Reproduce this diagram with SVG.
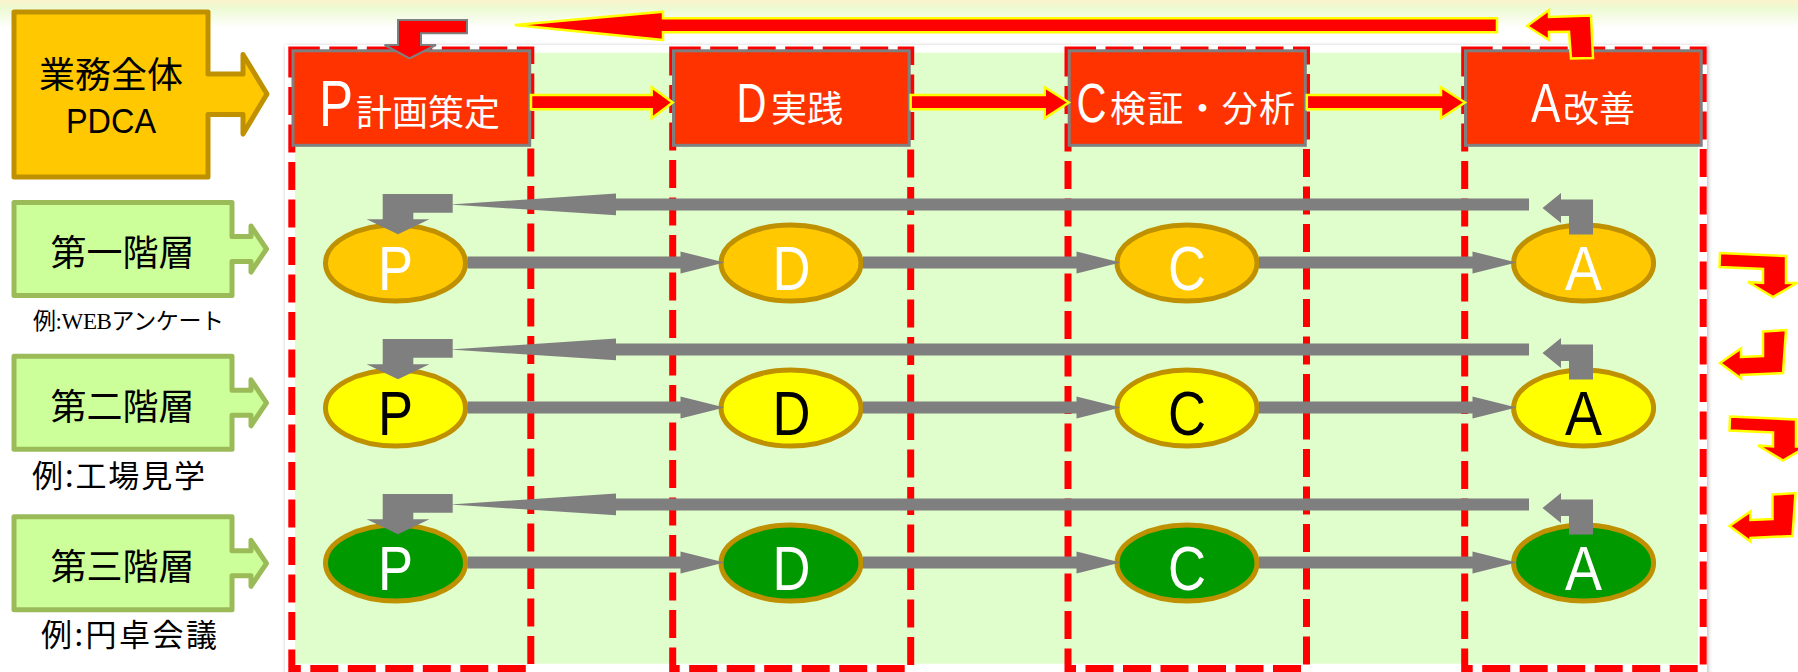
<svg xmlns="http://www.w3.org/2000/svg" xmlns:xlink="http://www.w3.org/1999/xlink" width="1798" height="672" viewBox="0 0 1798 672">
<style>
.cjk{font-family:"Noto Sans CJK JP","Noto Sans CJK SC",sans-serif}
.lat{font-family:"Liberation Sans",Arial,sans-serif}
.hdr{fill:#FF3300;stroke:#7F7F7F;stroke-width:3}
.lane{fill:none;stroke:#FF0000;stroke-width:7;stroke-dasharray:28 9.5}
.tier{fill:#CCFF99;stroke:#9BBB59;stroke-width:5;stroke-linejoin:round}
.top{fill:#FFC800;stroke:#BF9000;stroke-width:5;stroke-linejoin:round}
.redarr{fill:#FF0000;stroke:#FFFF00;stroke-width:2.5}
.redg{fill:#FF0000;stroke:#7F7F7F;stroke-width:2}
.gray{fill:#7F7F7F}
.ell{stroke:#BF9000;stroke-width:5}
.r1{fill:#FFC800}
.r2{fill:#FFFF00}
.r3{fill:#009900}
.wt{fill:#FFFFFF}
.bk{fill:#000000}
.el{font-size:63px;text-anchor:middle}
</style>
<defs>
<linearGradient id="topband" x1="0" y1="0" x2="0" y2="1">
<stop offset="0" stop-color="#FBF3CB"/>
<stop offset="0.3" stop-color="#EDFAD3"/>
<stop offset="1" stop-color="#FFFFFF"/>
</linearGradient>
<filter id="shadow" x="-2%" y="-5%" width="104%" height="110%">
<feDropShadow dx="1" dy="1" stdDeviation="2" flood-color="#000000" flood-opacity="0.3"/>
</filter>
<path id="tierShape" d="M14,-46.5H232V-12.5H251V-23L266.5,0L251,23V12.5H232V46.5H14Z"/>
<polygon id="gBentL" points="382.7,194 452.7,194 452.7,212.7 413.3,212.7 413.3,219.3 429.4,219.3 398,234.3 366.6,219.3 382.7,219.3"/>
<polygon id="gRet" points="1529,198.5 1529,210.5 616,210.5 616,215.3 450,204.5 616,193.5 616,198.5"/>
<polygon id="gBentR" points="1542.5,208 1561,193 1561,199.5 1593,199.5 1593,234.5 1569,234.5 1569,216 1561,216 1561,223"/>
<path id="fPD" d="M467.5,256.5H680.5V251.5L724.5,262.5L680.5,273.5V268.5H467.5Z"/>
<path id="fDC" d="M863,256.5H1076.5V251.5L1120.5,262.5L1076.5,273.5V268.5H863Z"/>
<path id="fCA" d="M1259,256.5H1472.5V251.5L1516.5,262.5L1472.5,273.5V268.5H1259Z"/>
<polygon id="rb1" points="1720,253 1786,256 1786,283 1797,283 1773,297 1748,282 1763,283 1763,269 1719.5,267"/>
<polygon id="rb2" points="1763,331.5 1786,330 1783,373 1741,375 1741,378.5 1720,363 1741,348.5 1741,357 1763,356"/>
</defs>

<rect x="0" y="0" width="1798" height="672" fill="#FFFFFF"/>
<rect x="0" y="0" width="1798" height="28" fill="url(#topband)"/>

<g id="panel">
<rect x="285" y="45" width="1422" height="640" fill="#FFFFFF" filter="url(#shadow)"/>
<rect x="295" y="52.7" width="1403" height="611" fill="#E0FDCC"/>
</g>

<g id="lanes">
<rect class="lane" x="291.8" y="50" width="239" height="618.5"/>
<rect class="lane" x="672.7" y="50" width="238" height="618.5"/>
<rect class="lane" x="1068" y="50" width="238.5" height="618.5"/>
<rect class="lane" x="1464.7" y="50" width="238.5" height="618.5"/>
</g>

<g id="overall">
<path class="top" d="M14,12H208V74H243V54.5L267,94L243,134V114.5H208V177H14Z"/>
<text class="cjk bk" x="111" y="88" font-size="36" text-anchor="middle">業務全体</text>
<text class="lat bk" x="111" y="133" font-size="35" text-anchor="middle" textLength="90" lengthAdjust="spacingAndGlyphs">PDCA</text>
</g>

<g id="tier1">
<use xlink:href="#tierShape" href="#tierShape" class="tier" y="249"/>
<text class="cjk bk" x="122.5" y="266" font-size="36" text-anchor="middle">第一階層</text>
</g>
<g id="tier2">
<use xlink:href="#tierShape" href="#tierShape" class="tier" y="402.8"/>
<text class="cjk bk" x="122.5" y="419.5" font-size="36" text-anchor="middle">第二階層</text>
</g>
<g id="tier3">
<use xlink:href="#tierShape" href="#tierShape" class="tier" y="563.3"/>
<text class="cjk bk" x="122.5" y="579.5" font-size="36" text-anchor="middle">第三階層</text>
</g>

<g id="labels">
<text x="33" y="329" font-size="23" textLength="191" style="font-family:'Liberation Serif','Noto Sans CJK JP',serif" fill="#000000">例:WEBアンケート</text>
<text class="cjk bk" x="32" y="487" font-size="31" textLength="173">例:工場見学</text>
<text class="cjk bk" x="41" y="646" font-size="31" textLength="176">例:円卓会議</text>
</g>

<g id="hdrP">
<rect class="hdr" x="293" y="50.8" width="236.7" height="94.5"/>
<text class="wt" y="126"><tspan class="lat" x="319" font-size="64" textLength="34" lengthAdjust="spacingAndGlyphs">P</tspan><tspan class="cjk" x="356" font-size="36">計画策定</tspan></text>
</g>
<g id="hdrD">
<rect class="hdr" x="673.5" y="50.8" width="235.7" height="94.5"/>
<text class="wt" y="122"><tspan class="lat" x="736.4" font-size="55" textLength="30" lengthAdjust="spacingAndGlyphs">D</tspan><tspan class="cjk" x="771" y="121.5" font-size="36">実践</tspan></text>
</g>
<g id="hdrC">
<rect class="hdr" x="1069.2" y="50.8" width="236.1" height="94.5"/>
<text class="wt" y="122"><tspan class="lat" x="1076.4" font-size="55" textLength="30" lengthAdjust="spacingAndGlyphs">C</tspan><tspan class="cjk" x="1110" y="121.5" font-size="36" textLength="185">検証・分析</tspan></text>
</g>
<g id="hdrA">
<rect class="hdr" x="1465.5" y="50.8" width="235.7" height="94.5"/>
<text class="wt" y="122"><tspan class="lat" x="1531" font-size="55" textLength="29.4" lengthAdjust="spacingAndGlyphs">A</tspan><tspan class="cjk" x="1563" y="121.5" font-size="36">改善</tspan></text>
</g>

<g id="row1">
<g id="p1"><ellipse class="ell r1" cx="395.5" cy="263" rx="70" ry="38"/><text class="lat wt el" x="395.5" y="290" textLength="35" lengthAdjust="spacingAndGlyphs">P</text></g>
<g id="d1"><ellipse class="ell r1" cx="791" cy="263" rx="70" ry="38"/><text class="lat wt el" x="791.5" y="290" textLength="38" lengthAdjust="spacingAndGlyphs">D</text></g>
<g id="c1"><ellipse class="ell r1" cx="1187" cy="263" rx="70" ry="38"/><text class="lat wt el" x="1187" y="290" textLength="38" lengthAdjust="spacingAndGlyphs">C</text></g>
<g id="a1"><ellipse class="ell r1" cx="1583.6" cy="263" rx="70" ry="38"/><text class="lat wt el" x="1583.6" y="290" textLength="37" lengthAdjust="spacingAndGlyphs">A</text></g>
</g>
<g id="row2">
<g id="p2"><ellipse class="ell r2" cx="395.5" cy="408" rx="70" ry="38"/><text class="lat bk el" x="395.5" y="435" textLength="35" lengthAdjust="spacingAndGlyphs">P</text></g>
<g id="d2"><ellipse class="ell r2" cx="791" cy="408" rx="70" ry="38"/><text class="lat bk el" x="791.5" y="435" textLength="38" lengthAdjust="spacingAndGlyphs">D</text></g>
<g id="c2"><ellipse class="ell r2" cx="1187" cy="408" rx="70" ry="38"/><text class="lat bk el" x="1187" y="435" textLength="38" lengthAdjust="spacingAndGlyphs">C</text></g>
<g id="a2"><ellipse class="ell r2" cx="1583.6" cy="408" rx="70" ry="38"/><text class="lat bk el" x="1583.6" y="435" textLength="37" lengthAdjust="spacingAndGlyphs">A</text></g>
</g>
<g id="row3">
<g id="p3"><ellipse class="ell r3" cx="395.5" cy="563" rx="70" ry="38"/><text class="lat wt el" x="395.5" y="590" textLength="35" lengthAdjust="spacingAndGlyphs">P</text></g>
<g id="d3"><ellipse class="ell r3" cx="791" cy="563" rx="70" ry="38"/><text class="lat wt el" x="791.5" y="590" textLength="38" lengthAdjust="spacingAndGlyphs">D</text></g>
<g id="c3"><ellipse class="ell r3" cx="1187" cy="563" rx="70" ry="38"/><text class="lat wt el" x="1187" y="590" textLength="38" lengthAdjust="spacingAndGlyphs">C</text></g>
<g id="a3"><ellipse class="ell r3" cx="1583.6" cy="563" rx="70" ry="38"/><text class="lat wt el" x="1583.6" y="590" textLength="37" lengthAdjust="spacingAndGlyphs">A</text></g>
</g>

<g id="connectors">
<g class="gray">
<use xlink:href="#fPD" href="#fPD"/><use xlink:href="#fDC" href="#fDC"/><use xlink:href="#fCA" href="#fCA"/>
<use xlink:href="#fPD" href="#fPD" y="145"/><use xlink:href="#fDC" href="#fDC" y="145"/><use xlink:href="#fCA" href="#fCA" y="145"/>
<use xlink:href="#fPD" href="#fPD" y="300"/><use xlink:href="#fDC" href="#fDC" y="300"/><use xlink:href="#fCA" href="#fCA" y="300"/>
<use xlink:href="#gRet" href="#gRet"/><use xlink:href="#gRet" href="#gRet" y="145"/><use xlink:href="#gRet" href="#gRet" y="300"/>
<use xlink:href="#gBentL" href="#gBentL"/><use xlink:href="#gBentL" href="#gBentL" y="145"/><use xlink:href="#gBentL" href="#gBentL" y="300"/>
<use xlink:href="#gBentR" href="#gBentR"/><use xlink:href="#gBentR" href="#gBentR" y="145"/><use xlink:href="#gBentR" href="#gBentR" y="300"/>
</g>
<polygon class="redarr" points="514.7,25 663,11.7 663,18.3 1497,18.3 1497,32.3 663,32.3 663,40"/>
<polygon class="redarr" points="1527,26 1549,10 1549,17 1591,15.5 1593,58 1571,58.5 1569,31.7 1549,32 1549,40"/>
<polygon class="redg" points="398,20 467,20 467,33.3 421,33.3 421,45 436,45 409.5,58.3 384.6,45 398,45"/>
<polygon class="redarr" points="531,95 651.7,95 651.7,87.3 672.7,102.5 651.7,118.3 651.7,109.3 531,109.3"/>
<polygon class="redarr" points="910.7,95 1044.7,95 1044.7,87.3 1068.8,102.5 1044.7,118.3 1044.7,109.3 910.7,109.3"/>
<polygon class="redarr" points="1306.8,95 1441,95 1441,87.3 1465,102.5 1441,118.3 1441,109.3 1306.8,109.3"/>
<use xlink:href="#rb1" href="#rb1" class="redarr"/>
<use xlink:href="#rb2" href="#rb2" class="redarr"/>
<use xlink:href="#rb1" href="#rb1" class="redarr" x="10" y="163.5"/>
<use xlink:href="#rb2" href="#rb2" class="redarr" x="9.5" y="163"/>
</g>
</svg>
